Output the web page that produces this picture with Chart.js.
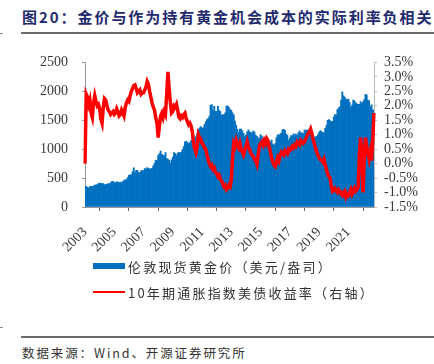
<!DOCTYPE html>
<html>
<head>
<meta charset="utf-8">
<script src="https://cdn.jsdelivr.net/npm/chart.js@4.4.0/dist/chart.umd.min.js"></script>
<style>
    body { margin: 0; width: 434px; height: 364px; background: #fff; position: relative; overflow: hidden;
           font-family: "Noto Sans CJK SC", sans-serif; }
    #title { position: absolute; left: 22px; top: 6px; font-size: 15px; font-weight: bold; color: #1f2a6e;
             letter-spacing: 1.95px; white-space: nowrap; }
    .rule { position: absolute; left: 21px; width: 413px; background: #6b6b6b; }
    .nick { position: absolute; left: 0; width: 3px; height: 1px; background: #888; }
    #wrap { position: absolute; left: 0; top: 40px; width: 434px; height: 215px; }
    #legend { position: absolute; left: 93px; top: 253px; }
    .item { height: 26px; display: flex; align-items: center; font-size: 13px; color: #333; letter-spacing: 2.2px; }
    .swatch { width: 32px; margin-right: 3px; }
    #source { position: absolute; left: 22px; top: 343px; font-size: 12.5px; color: #333; letter-spacing: 1.9px; }
</style>
</head>
<body>
<div id="title">图20：金价与作为持有黄金机会成本的实际利率负相关</div>
<div class="rule" style="top:32px;height:2px"></div>
<div class="nick" style="top:33px"></div>
<div id="wrap"><canvas id="chart"></canvas></div>
<div id="legend"></div>
<div class="nick" style="top:327px"></div>
<div class="rule" style="top:336px;height:1.5px"></div>
<div id="source">数据来源：Wind、开源证券研究所</div>

<script>
// ===================== DATA =====================

const startYear = 2003;
const yearTicks = ['2003', '2005', '2007', '2009', '2011', '2013', '2015', '2017', '2019', '2021'];

const seriesNames = ['伦敦现货黄金价（美元/盎司）', '10年期通胀指数美债收益率（右轴）'];

// London spot gold, USD/oz, monthly, 2003-01 .. 2022-10
const goldPrice = [
    356, 359, 340, 328, 355, 356, 351, 360, 379, 379, 389, 407,
    414, 405, 406, 403, 384, 392, 398, 400, 406, 420, 439, 442,
    424, 423, 434, 429, 422, 430, 424, 438, 456, 470, 476, 510,
    549, 555, 557, 610, 676, 596, 633, 632, 598, 585, 627, 629,
    631, 665, 655, 680, 668, 655, 665, 665, 713, 754, 806, 803,
    889, 922, 968, 909, 888, 890, 939, 839, 829, 806, 760, 816,
    858, 943, 924, 890, 928, 946, 934, 949, 996, 1043, 1127, 1135,
    1118, 1095, 1113, 1148, 1205, 1233, 1193, 1215, 1271, 1343, 1370, 1391,
    1360, 1374, 1424, 1474, 1512, 1529, 1572, 1756, 1772, 1665, 1739, 1652,
    1656, 1742, 1673, 1650, 1585, 1596, 1594, 1630, 1745, 1747, 1722, 1684,
    1671, 1628, 1593, 1487, 1414, 1343, 1286, 1347, 1349, 1316, 1275, 1225,
    1244, 1300, 1336, 1299, 1288, 1279, 1311, 1296, 1239, 1222, 1176, 1200,
    1251, 1227, 1179, 1198, 1199, 1182, 1131, 1117, 1125, 1159, 1086, 1068,
    1097, 1200, 1246, 1242, 1260, 1276, 1337, 1341, 1326, 1267, 1238, 1152,
    1192, 1234, 1231, 1266, 1246, 1260, 1236, 1283, 1314, 1280, 1283, 1265,
    1331, 1331, 1325, 1335, 1304, 1281, 1238, 1202, 1198, 1215, 1221, 1250,
    1291, 1320, 1300, 1285, 1284, 1359, 1413, 1500, 1511, 1495, 1471, 1480,
    1560, 1597, 1591, 1683, 1716, 1732, 1847, 1990, 1922, 1900, 1866, 1858,
    1867, 1808, 1718, 1760, 1850, 1834, 1807, 1785, 1775, 1777, 1821, 1790,
    1817, 1856, 1948, 1937, 1849, 1837, 1733, 1765, 1681, 1665
];

// 10Y TIPS real yield, %, monthly, same months
const realYield = [
    0.00, 2.40, 2.30, 2.05, 2.20, 1.75, 1.60, 2.10, 2.35, 2.15, 2.00, 2.05,
    1.90, 1.55, 1.40, 1.95, 2.25, 2.20, 2.00, 1.85, 1.80, 1.70, 1.75, 1.80,
    1.70, 1.75, 1.90, 1.80, 1.65, 1.70, 1.85, 1.75, 1.65, 1.95, 2.10, 2.20,
    2.15, 2.35, 2.50, 2.60, 2.70, 2.72, 2.60, 2.45, 2.50, 2.55, 2.40, 2.45,
    2.45, 2.55, 2.65, 2.84, 2.75, 2.50, 2.30, 2.10, 1.95, 1.85, 1.60, 1.40,
    0.90, 1.30, 1.65, 1.75, 1.60, 1.80, 1.70, 2.40, 3.17, 2.60, 2.10, 1.75,
    1.80, 2.00, 1.95, 2.05, 1.85, 1.60, 1.55, 1.65, 1.60, 1.70, 1.75, 1.55,
    1.45, 1.35, 1.40, 1.30, 1.10, 0.75, 0.50, 0.38, 0.60, 1.00, 0.90, 0.85,
    0.70, 0.65, 0.55, 0.50, 0.30, 0.15, 0.00, -0.10, -0.05, -0.20, -0.15, -0.30,
    -0.35, -0.45, -0.40, -0.55, -0.60, -0.70, -0.80, -0.75, -0.90, -0.85, -0.75, -0.80,
    -0.55, 0.20, 0.70, 0.60, 0.80, 0.65, 0.55, 0.70, 0.50, 0.40, 0.30, 0.45,
    0.60, 0.75, 0.55, 0.50, 0.35, 0.30, 0.25, 0.15, 0.10, -0.02, 0.30, 0.60,
    0.70, 0.75, 0.65, 0.80, 0.70, 0.87, 0.80, 0.60, 0.40, 0.20, 0.05, -0.05,
    -0.10, 0.05, 0.20, 0.10, 0.30, 0.40, 0.35, 0.30, 0.45, 0.40, 0.35, 0.50,
    0.45, 0.50, 0.60, 0.55, 0.65, 0.60, 0.75, 0.70, 0.65, 0.80, 0.75, 0.70,
    0.75, 0.85, 0.95, 1.05, 1.10, 1.20, 1.05, 0.85, 0.70, 0.55, 0.40, 0.30,
    0.20, 0.15, 0.10, 0.05, 0.15, -0.05, -0.20, -0.35, -0.45, -0.50, -0.80, -0.95,
    -0.90, -0.85, -0.95, -1.00, -0.90, -0.95, -1.05, -1.10, -1.00, -0.95, -1.15, -1.05,
    -1.10, -1.00, -0.90, -1.05, -0.95, -0.85, -0.95, -0.90, -0.80, 0.30, 0.90, 0.35,
    -1.00, 0.20, 0.90, 0.60, 0.35, 0.15, 0.40, 0.10, 0.80, 1.75
];

// month labels, YYYY-MM
const months = goldPrice.map((_, i) => {
    const y = startYear + Math.floor(i / 12);
    const m = (i % 12) + 1;
    return y + '-' + String(m).padStart(2, '0');
});

// ===================== STYLE =====================

const BLUE = '#0070C0';
const RED  = '#FF0000';
const tickFont = { family: '"Liberation Serif", "Times New Roman", serif', size: 14 };
const tickColor = '#3a3a3a';

// ===================== LEGEND (html) =====================

const legendEl = document.getElementById('legend');
[[BLUE, 6], [RED, 2]].forEach(([c, h], i) => {
    const row = document.createElement('div');
    row.className = 'item';
    row.innerHTML = '<span class="swatch" style="height:' + h + 'px;background:' + c + '"></span>' + seriesNames[i];
    legendEl.appendChild(row);
});

// ===================== CHART =====================

new Chart(document.getElementById('chart'), {
    data: {
        labels: months,
        datasets: [
            {
                type: 'line',
                label: seriesNames[1],
                data: realYield,
                borderColor: RED,
                borderWidth: 3.5,
                pointRadius: 0,
                tension: 0,
                yAxisID: 'y1',
                order: 0
            },
            {
                type: 'bar',
                label: seriesNames[0],
                data: goldPrice,
                backgroundColor: BLUE,
                borderWidth: 0,
                barPercentage: 1,
                categoryPercentage: 1,
                yAxisID: 'y',
                order: 1
            }
        ]
    },
    options: {
        responsive: true,
        maintainAspectRatio: false,
        animation: false,
        layout: { padding: { top: 14, left: 0, right: 0, bottom: 0 } },
        plugins: { legend: { display: false }, tooltip: { enabled: false } },
        scales: {
            x: {
                offset: false,
                grid: { drawOnChartArea: false, tickLength: 4, color: '#666' },
                border: { color: '#999' },
                ticks: {
                    autoSkip: false,
                    maxRotation: 45,
                    minRotation: 45,
                    padding: 13,
                    font: tickFont,
                    color: tickColor,
                    callback: (v, i) => {
                        const lab = months[i];
                        if (lab.slice(5) !== '01') return null;
                        const yr = lab.slice(0, 4);
                        return yearTicks.includes(yr) ? yr : null;
                    }
                },
                afterFit: s => { s.height = 48; }
            },
            y: {
                position: 'left',
                min: 0, max: 2500,
                grid: { drawOnChartArea: false, tickLength: 3, color: '#999' },
                border: { color: '#999' },
                ticks: { stepSize: 500, autoSkip: false, padding: 14, font: tickFont, color: tickColor,
                         callback: v => String(v) },
                afterFit: s => { s.width = 85; }
            },
            y1: {
                position: 'right',
                min: -1.5, max: 3.5,
                grid: { drawOnChartArea: false, tickLength: 3, color: '#bbb' },
                border: { color: '#bbb' },
                ticks: {
                    stepSize: 0.5, autoSkip: false, padding: 7, font: tickFont, color: tickColor,
                    callback: v => v.toFixed(1) + '%'
                },
                afterFit: s => { s.width = 60; }
            }
        }
    }
});
</script>
</body>
</html>
